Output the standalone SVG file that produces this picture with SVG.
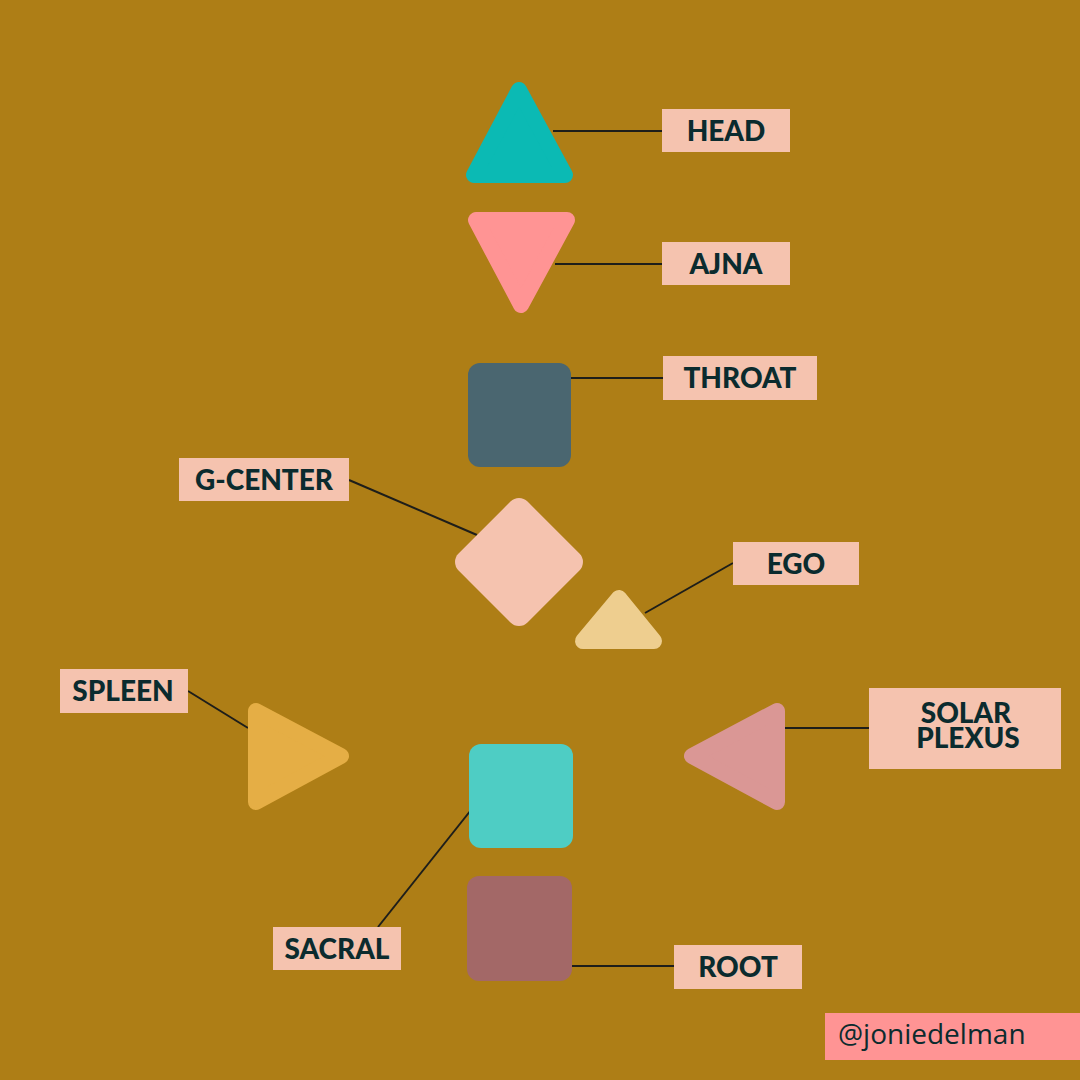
<svg xmlns="http://www.w3.org/2000/svg" width="1080" height="1080" viewBox="0 0 1080 1080">
<style>
.lbl{fill:#F5C3AF}
.txt{font-family:Lato,"Liberation Sans",sans-serif;font-weight:900;font-size:28px;fill:#0B2B2E;text-anchor:middle}
.con line{stroke:#1E1E1A;stroke-width:2}
.tri{stroke-width:16;stroke-linejoin:round}
</style>
<rect width="1080" height="1080" fill="#AE7E16"/>
<g id="connectors" class="con">
<line x1="553" y1="131" x2="662" y2="131"/>
<line x1="555" y1="264" x2="662" y2="264"/>
<line x1="571" y1="378" x2="663" y2="378"/>
<line x1="349" y1="480" x2="477" y2="535"/>
<line x1="645" y1="613" x2="733" y2="563"/>
<line x1="188" y1="691" x2="248" y2="728"/>
<line x1="785" y1="728" x2="869" y2="728"/>
<line x1="378" y1="927" x2="471" y2="810"/>
<line x1="572" y1="966" x2="674" y2="966"/>
</g>
<g id="head">
<polygon class="tri" points="519,90 474,175 565,175" fill="#0BBAB4" stroke="#0BBAB4"/>
<rect class="lbl" x="662" y="109" width="128" height="43"/>
<text class="txt" x="726" y="141">HEAD</text>
</g>
<g id="ajna">
<polygon class="tri" points="476,220 567,220 521,305" fill="#FF9494" stroke="#FF9494"/>
<rect class="lbl" x="662" y="242" width="128" height="43"/>
<text class="txt" x="726" y="274">AJNA</text>
</g>
<g id="throat">
<rect x="468" y="363" width="103" height="104" rx="12" fill="#4A6670"/>
<rect class="lbl" x="663" y="356" width="154" height="44"/>
<text class="txt" x="740" y="388">THROAT</text>
</g>
<g id="g-center">
<rect x="-48.75" y="-48.75" width="97.5" height="97.5" rx="12" fill="#F5C3AF" transform="translate(519,562) rotate(45)"/>
<rect class="lbl" x="179" y="458" width="170" height="43"/>
<text class="txt" x="264" y="490">G-CENTER</text>
</g>
<g id="ego">
<polygon class="tri" points="619,598 583,641 654,641" fill="#EECE8F" stroke="#EECE8F"/>
<rect class="lbl" x="733" y="542" width="126" height="43"/>
<text class="txt" x="796" y="574">EGO</text>
</g>
<g id="spleen">
<polygon class="tri" points="256,711 256,802 341,756" fill="#E5AE45" stroke="#E5AE45"/>
<rect class="lbl" x="60" y="669" width="128" height="44"/>
<text class="txt" x="123" y="701">SPLEEN</text>
</g>
<g id="solar-plexus">
<polygon class="tri" points="777,711 777,802 692,756" fill="#DA9795" stroke="#DA9795"/>
<rect class="lbl" x="869" y="688" width="192" height="81"/>
<text class="txt"><tspan x="966" y="723">SOLAR</tspan><tspan x="968" y="748">PLEXUS</tspan></text>
</g>
<g id="sacral">
<rect x="469" y="744" width="104" height="104" rx="12" fill="#4ECDC4"/>
<rect class="lbl" x="273" y="927" width="128" height="43"/>
<text class="txt" x="337" y="959">SACRAL</text>
</g>
<g id="root">
<rect x="467" y="876" width="105" height="105" rx="12" fill="#A36867"/>
<rect class="lbl" x="674" y="945" width="128" height="44"/>
<text class="txt" x="738" y="977">ROOT</text>
</g>
<g id="handle">
<rect x="825" y="1013" width="255" height="47" fill="#FF9494"/>
<text x="838" y="1044" font-family="'Open Sans','Liberation Sans',sans-serif" font-size="28" fill="#0B2B2E">@joniedelman</text>
</g>
</svg>
